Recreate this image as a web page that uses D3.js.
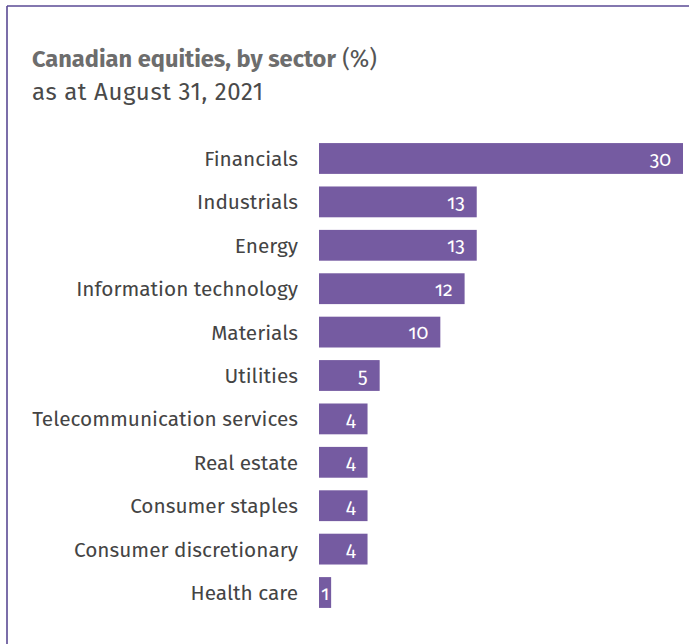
<!DOCTYPE html>
<html><head><meta charset="utf-8">
<script src="https://cdn.jsdelivr.net/npm/d3@7"></script>
<style>
html,body{margin:0;padding:0;background:#fff;}
svg{display:block;}
</style></head>
<body>
<svg id="chart" width="689" height="644"></svg>
<script>
const categories = ["Financials","Industrials","Energy","Information technology","Materials","Utilities","Telecommunication services","Real estate","Consumer staples","Consumer discretionary","Health care"];
const values = [30,13,13,12,10,5,4,4,4,4,1];
const titleBold = "Canadian equities, by sector";
const titleUnit = " (%)";
const subtitle = "as at August 31, 2021";

const svg = d3.select("#chart");
const font = "'Fira Sans','Open Sans','Noto Sans',sans-serif";

// frame
svg.append("line").attr("x1",7).attr("x2",689).attr("y1",6).attr("y2",6).attr("stroke","#5a4a94").attr("stroke-width",1.6);
svg.append("line").attr("x1",7).attr("x2",7).attr("y1",6).attr("y2",644).attr("stroke","#5a4a94").attr("stroke-width",1.6);

// titles
const t = svg.append("text").attr("x",32).attr("y",67).attr("font-family",font).attr("font-size",23.6).attr("fill","#6d6d6d");
t.append("tspan").attr("font-weight","bold").text(titleBold);
t.append("tspan").attr("fill","#555").text(titleUnit);
svg.append("text").attr("x",32).attr("y",100).attr("font-family",font).attr("font-size",24).attr("letter-spacing",0.6).attr("fill","#4a4a4a").text(subtitle);

const x = d3.scaleLinear().domain([0,30]).range([319,683]);
const y = d3.scaleBand().domain(categories).range([137,614]).paddingInner(0.29).paddingOuter(0.14);

const g = svg.append("g");
g.selectAll("rect").data(categories).join("rect")
  .attr("x",x(0)).attr("y",d=>y(d)).attr("height",y.bandwidth())
  .attr("width",(d,i)=>x(values[i])-x(0)).attr("fill","#755ba1");

g.selectAll("text.cat").data(categories).join("text").attr("class","cat")
  .attr("x",298).attr("y",d=>y(d)+y.bandwidth()/2).attr("dy","0.36em")
  .attr("text-anchor","end").attr("font-family",font).attr("font-size",20.8)
  .attr("fill","#444").text(d=>d);

g.selectAll("text.val").data(categories).join("text").attr("class","val")
  .attr("x",(d,i)=> values[i] < 2 ? (x(0)+x(values[i]))/2 : x(values[i]) - 12)
  .attr("text-anchor",(d,i)=> values[i] < 2 ? "middle" : "end")
  .attr("y",d=>y(d)+y.bandwidth()/2).attr("dy","0.36em")
  .attr("font-family",font).attr("font-size",19.5).attr("fill","#fff")
  .style("font-variant-numeric","oldstyle-nums")
  .text((d,i)=>values[i]);
</script>
</body></html>
